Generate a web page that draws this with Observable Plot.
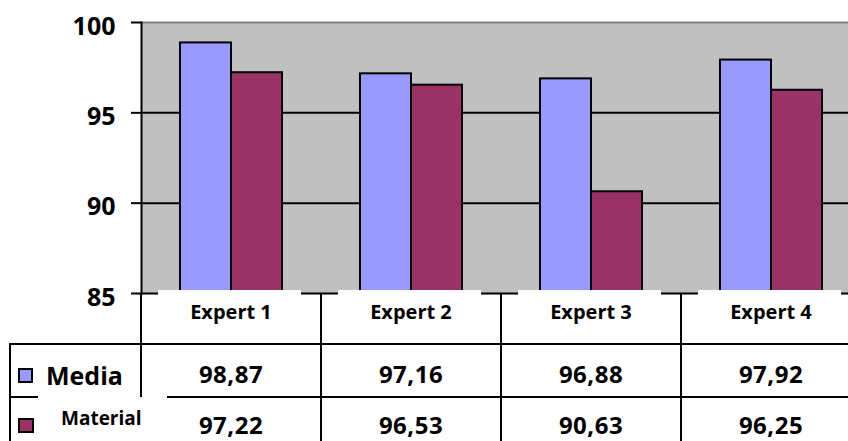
<!DOCTYPE html>
<html>
<head>
<meta charset="utf-8">
<script src="https://cdn.jsdelivr.net/npm/d3@7"></script>
<script src="https://cdn.jsdelivr.net/npm/@observablehq/plot@0.6"></script>
<style>
  html, body { margin: 0; padding: 0; background: #fff; overflow: hidden; }
  #wrap { position: relative; width: 861px; height: 460px; font-family: "Open Sans", sans-serif; font-weight: bold; color: #000; }
  #wrap svg { position: absolute; left: 0; top: 0; }
  .abs { position: absolute; }
  .hl { position: absolute; height: 2px; background: #000; }
  .vl { position: absolute; width: 2px; background: #000; }
  .txt { position: absolute; line-height: 1; white-space: nowrap; text-align: center; }
</style>
</head>
<body>
<div id="wrap"></div>
<script>
// ---- data ----
const experts = ["Expert 1", "Expert 2", "Expert 3", "Expert 4"];
const seriesNames = ["Media", "Material"];
const media = [98.87, 97.16, 96.88, 97.92];
const material = [97.22, 96.53, 90.63, 96.25];
const yTicks = [85, 90, 95, 100];
const seriesColors = ["#9999FF", "#993366"];

const rows = [];
experts.forEach((e, i) => {
  rows.push({expert: e, series: "Media", value: media[i]});
  rows.push({expert: e, series: "Material", value: material[i]});
});
const fmt = v => v.toFixed(2).replace(".", ",");

const wrap = document.getElementById("wrap");

const chart = Plot.plot({
  width: 861,
  height: 295,
  marginLeft: 141,
  marginRight: 0,
  marginTop: 22,
  marginBottom: 2,
  style: {fontFamily: "'Open Sans', sans-serif", fontWeight: "bold", background: "transparent", color: "#000", overflow: "visible"},
  fx: {domain: experts, padding: 0, axis: null},
  x: {domain: seriesNames, paddingInner: 0, paddingOuter: 0.74, axis: null},
  y: {domain: [85, 100], axis: null},
  color: {domain: seriesNames, range: seriesColors},
  marks: [
    Plot.frame({fill: "#C0C0C0", facet: "super"}),
    Plot.ruleY([90, 95], {stroke: "#000", strokeWidth: 2}),
    Plot.ruleY([100], {stroke: "#808080", strokeWidth: 2}),
    Plot.ruleY([85], {stroke: "#000", strokeWidth: 2}),
    Plot.barY(rows, {fx: "expert", x: "series", y1: 85, y2: "value", fill: "series", stroke: "#000", strokeWidth: 2}),
    Plot.frame({anchor: "left", facet: "super", stroke: "#000", strokeWidth: 2}),
    Plot.axisY(yTicks, {tickSize: 10, text: null, label: null, stroke: "#000", strokeWidth: 2}),
    Plot.axisY(yTicks, {tickSize: 0, tickPadding: 26, dy: 4, label: null, fontSize: 25, fontWeight: "bold", fill: "#000"})
  ]
});
wrap.appendChild(chart);

// ---- data table below the chart, aligned on the fx scale ----
const fxs = chart.scale("fx");
const step = fxs && fxs.step ? fxs.step : 180;
const colLeft = e => (fxs && fxs.apply ? fxs.apply(e) : 141 + experts.indexOf(e) * step);
const axisX = colLeft(experts[0]);
const rightEdge = colLeft(experts[experts.length - 1]) + step;

function el(cls, css, text) {
  const d = document.createElement("div");
  d.className = cls;
  Object.assign(d.style, css);
  if (text != null) d.textContent = text;
  wrap.appendChild(d);
  return d;
}

const yAxisBottom = 293, row1 = 344, row2 = 397, tableBottom = 460;

// white header label boxes (cover the axis line partly, as in the original)
experts.forEach(e => {
  const l = colLeft(e);
  el("abs", {left: (l + 17) + "px", top: "290px", width: (step - 37) + "px", height: (row1 - 290) + "px", background: "#fff"});
});

// grid lines of the table
el("vl", {left: (axisX - 1) + "px", top: yAxisBottom + "px", height: (row2 - yAxisBottom) + "px"});
experts.slice(1).forEach(e => {
  el("vl", {left: (colLeft(e) - 1) + "px", top: yAxisBottom + "px", height: (tableBottom - yAxisBottom) + "px"});
});
el("vl", {left: "9px", top: (row1 - 1) + "px", height: (tableBottom - row1) + "px"});
el("hl", {left: "9px", top: (row1 - 1) + "px", width: (rightEdge - 9) + "px"});
el("hl", {left: "9px", top: (row2 - 1) + "px", width: "29px"});
el("hl", {left: "167px", top: (row2 - 1) + "px", width: (rightEdge - 167) + "px"});

// header labels
experts.forEach(e => {
  el("txt", {left: colLeft(e) + "px", width: step + "px", top: "302px", fontSize: "20px"}, e);
});

// legend keys + row labels
el("abs", {left: "18px", top: "368px", width: "15px", height: "15px", background: seriesColors[0], border: "2px solid #000", boxSizing: "border-box"});
el("txt", {left: "46px", top: "363px", fontSize: "25px", textAlign: "left"}, seriesNames[0]);
el("abs", {left: "18px", top: "418px", width: "16px", height: "15px", background: seriesColors[1], border: "2px solid #000", boxSizing: "border-box"});
el("txt", {left: "61px", top: "409px", fontSize: "19px", textAlign: "left"}, seriesNames[1]);

// values
experts.forEach((e, i) => {
  el("txt", {left: colLeft(e) + "px", width: step + "px", top: "362px", fontSize: "24px", letterSpacing: "0.5px"}, fmt(media[i]));
  el("txt", {left: colLeft(e) + "px", width: step + "px", top: "413px", fontSize: "24px", letterSpacing: "0.5px"}, fmt(material[i]));
});
</script>
</body>
</html>
